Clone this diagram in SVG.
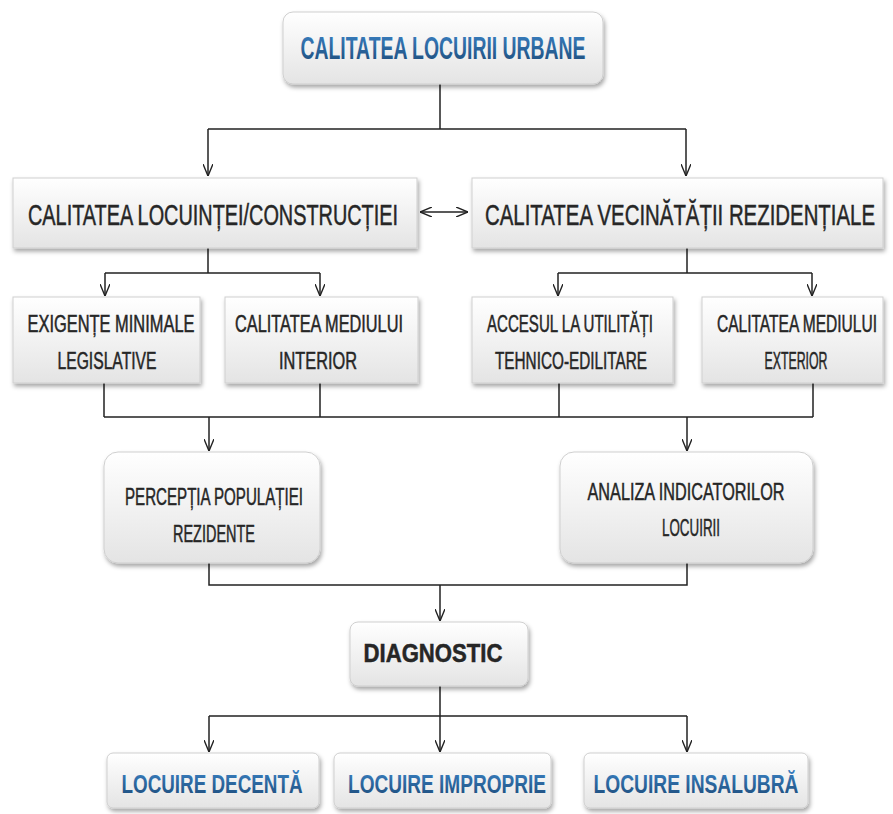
<svg xmlns="http://www.w3.org/2000/svg" width="893" height="814" viewBox="0 0 893 814">
<defs>
<linearGradient id="boxg" x1="0" y1="0" x2="0" y2="1">
<stop offset="0" stop-color="#ffffff"/>
<stop offset="1" stop-color="#e4e4e4"/>
</linearGradient>
<linearGradient id="blueg" x1="0" y1="0" x2="0" y2="1">
<stop offset="0" stop-color="#3b82c4"/>
<stop offset="1" stop-color="#1c4a78"/>
</linearGradient>
<filter id="sh" x="-10%" y="-10%" width="125%" height="135%">
<feDropShadow dx="1.5" dy="3" stdDeviation="2" flood-color="#000" flood-opacity="0.35"/>
</filter>
<marker id="ar" viewBox="0 0 12 10" refX="12" refY="5" markerWidth="12" markerHeight="10" markerUnits="userSpaceOnUse" orient="auto-start-reverse">
<path d="M0,0 L12,5 L0,10" fill="none" stroke="#222" stroke-width="1.4"/>
</marker>
</defs>
<style>
.box{fill:url(#boxg);stroke:#cfcfcf;stroke-width:1;filter:url(#sh)}
.t{font-family:"Liberation Sans",Arial,sans-serif;fill:#262626;stroke:#262626;stroke-width:0.5;text-anchor:middle}
.b{font-weight:bold;fill:url(#blueg);stroke:none}
.c{fill:none;stroke:#222;stroke-width:1.5}
.a{marker-end:url(#ar)}
</style>
<rect width="893" height="814" fill="#ffffff"/>
<g id="connectors">
<path class="c" d="M440 84 V129 M208 129 H686"/>
<path class="c a" d="M208 129 V176"/>
<path class="c a" d="M686 129 V176"/>
<path class="c a" d="M420 212 H468" marker-start="url(#ar)"/>
<path class="c" d="M208 248 V273 M105 273 H320"/>
<path class="c a" d="M105 273 V296"/>
<path class="c a" d="M320 273 V296"/>
<path class="c" d="M687 248 V273 M558 273 H812"/>
<path class="c a" d="M558 273 V296"/>
<path class="c a" d="M812 273 V296"/>
<path class="c" d="M104 383 V417 M320 383 V417 M559 383 V417 M813 383 V417 M104 417 H813"/>
<path class="c a" d="M209 417 V451"/>
<path class="c a" d="M687 417 V451"/>
<path class="c" d="M209 563 V585 H687 V563"/>
<path class="c a" d="M440 585 V621"/>
<path class="c" d="M440 686 V716 M209 716 H687"/>
<path class="c a" d="M209 716 V752"/>
<path class="c a" d="M440 716 V752"/>
<path class="c a" d="M687 716 V752"/>
</g>
<g id="n-top">
<rect class="box" x="283" y="12" width="320" height="72" rx="10"/>
<text class="t b" x="443" y="59" font-size="31" textLength="285" lengthAdjust="spacingAndGlyphs">CALITATEA LOCUIRII URBANE</text>
</g>
<g id="n-locuinta">
<rect class="box" x="13" y="178" width="404" height="70"/>
<text class="t" x="213" y="225" font-size="30" textLength="370" lengthAdjust="spacingAndGlyphs">CALITATEA LOCUINȚEI/CONSTRUCȚIEI</text>
</g>
<g id="n-vecinatate">
<rect class="box" x="472" y="178" width="411" height="70"/>
<text class="t" x="680" y="225" font-size="30" textLength="390" lengthAdjust="spacingAndGlyphs">CALITATEA VECINĂTĂȚII REZIDENȚIALE</text>
</g>
<g id="n-exigente">
<rect class="box" x="13" y="297" width="187" height="86"/>
<text class="t" x="111" y="332" font-size="23" textLength="167" lengthAdjust="spacingAndGlyphs">EXIGENȚE MINIMALE</text>
<text class="t" x="107" y="369" font-size="23" textLength="99" lengthAdjust="spacingAndGlyphs">LEGISLATIVE</text>
</g>
<g id="n-interior">
<rect class="box" x="225" y="297" width="193" height="86"/>
<text class="t" x="319" y="332" font-size="23" textLength="168" lengthAdjust="spacingAndGlyphs">CALITATEA MEDIULUI</text>
<text class="t" x="318" y="369" font-size="23" textLength="78" lengthAdjust="spacingAndGlyphs">INTERIOR</text>
</g>
<g id="n-acces">
<rect class="box" x="472" y="297" width="201" height="86"/>
<text class="t" x="570" y="332" font-size="23" textLength="166" lengthAdjust="spacingAndGlyphs">ACCESUL LA UTILITĂȚI</text>
<text class="t" x="571" y="369" font-size="23" textLength="152" lengthAdjust="spacingAndGlyphs">TEHNICO-EDILITARE</text>
</g>
<g id="n-exterior">
<rect class="box" x="702" y="297" width="181" height="86"/>
<text class="t" x="797" y="332" font-size="23" textLength="160" lengthAdjust="spacingAndGlyphs">CALITATEA MEDIULUI</text>
<text class="t" x="796" y="369" font-size="23" textLength="63" lengthAdjust="spacingAndGlyphs">EXTERIOR</text>
</g>
<g id="n-perceptia">
<rect class="box" x="104" y="452" width="216" height="111" rx="14"/>
<text class="t" x="214" y="505" font-size="24" textLength="178" lengthAdjust="spacingAndGlyphs">PERCEPȚIA POPULAȚIEI</text>
<text class="t" x="214" y="542" font-size="24" textLength="82" lengthAdjust="spacingAndGlyphs">REZIDENTE</text>
</g>
<g id="n-analiza">
<rect class="box" x="560" y="452" width="253" height="111" rx="14"/>
<text class="t" x="686" y="500" font-size="24" textLength="197" lengthAdjust="spacingAndGlyphs">ANALIZA INDICATORILOR</text>
<text class="t" x="691" y="536" font-size="24" textLength="58" lengthAdjust="spacingAndGlyphs">LOCUIRII</text>
</g>
<g id="n-diagnostic">
<rect class="box" x="350" y="622" width="178" height="64" rx="8"/>
<text class="t" x="433" y="662" font-size="25" font-weight="bold" stroke-width="0.2" textLength="139" lengthAdjust="spacingAndGlyphs">DIAGNOSTIC</text>
</g>
<g id="n-decenta">
<rect class="box" x="107" y="753" width="212" height="55" rx="6"/>
<text class="t b" x="212" y="793" font-size="26" textLength="181" lengthAdjust="spacingAndGlyphs">LOCUIRE DECENTĂ</text>
</g>
<g id="n-improprie">
<rect class="box" x="334" y="753" width="217" height="55" rx="6"/>
<text class="t b" x="447" y="793" font-size="26" textLength="198" lengthAdjust="spacingAndGlyphs">LOCUIRE IMPROPRIE</text>
</g>
<g id="n-insalubra">
<rect class="box" x="584" y="753" width="224" height="55" rx="6"/>
<text class="t b" x="696" y="793" font-size="26" textLength="205" lengthAdjust="spacingAndGlyphs">LOCUIRE INSALUBRĂ</text>
</g>
</svg>
